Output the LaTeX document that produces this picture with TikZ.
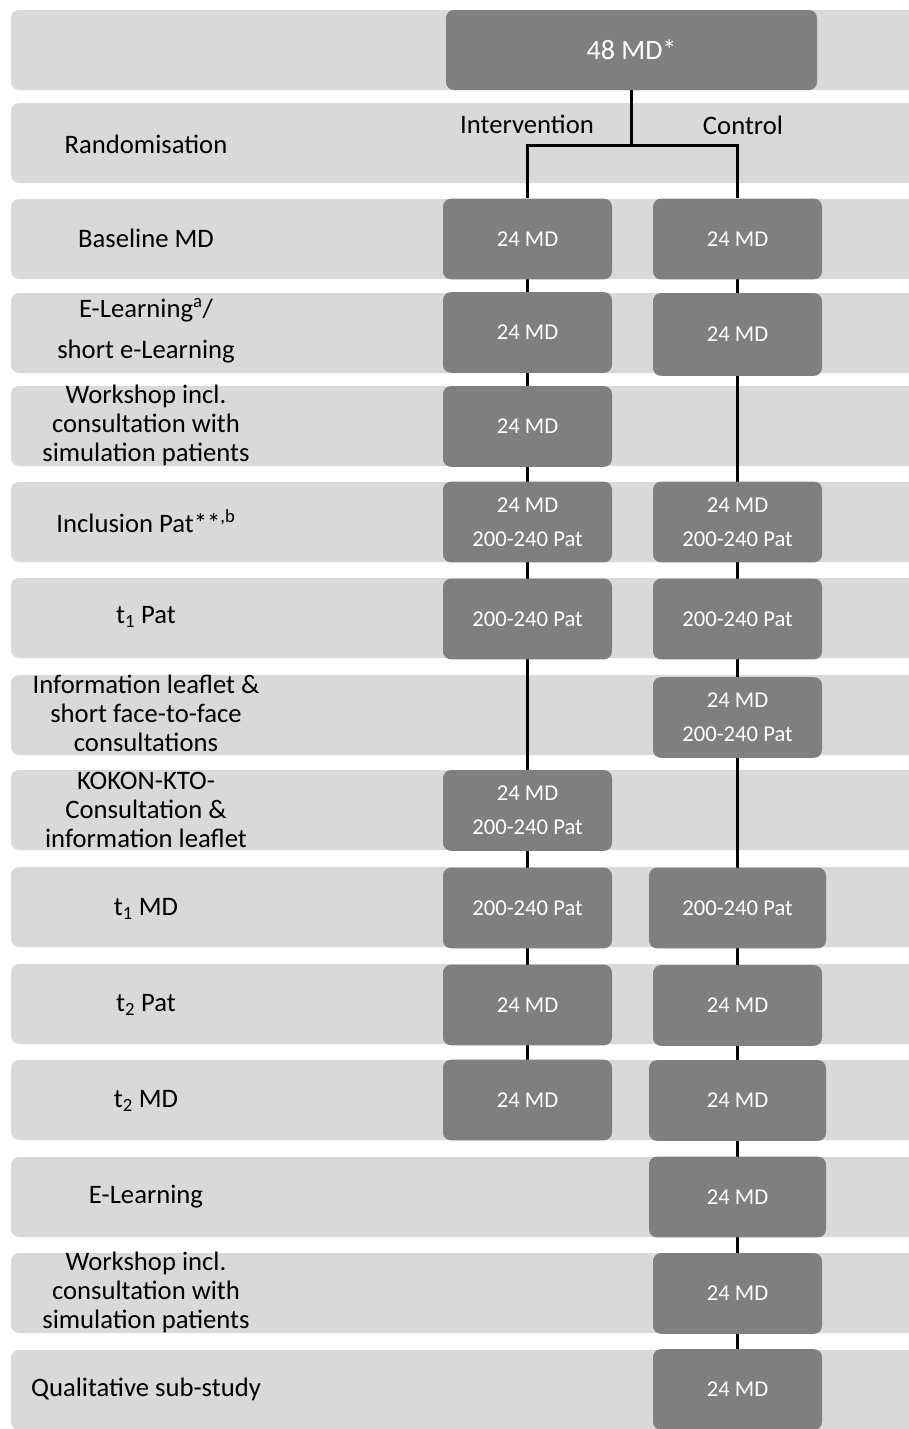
\documentclass[tikz,border=0pt]{standalone}
\usepackage{fontspec}
\setmainfont{Carlito}
\definecolor{bandgray}{HTML}{D9D9D9}
\definecolor{boxgray}{HTML}{7F7F7F}
\pgfdeclarelayer{bands}
\pgfdeclarelayer{lines}
\pgfsetlayers{bands,lines,main}
\begin{document}
\begin{tikzpicture}[x=0.75pt,y=-0.75pt,
  band/.style={fill=bandgray, rounded corners=6pt},
  box/.style={fill=boxgray, rounded corners=6pt, inner sep=0pt, text=white,
    align=center, font=\fontsize{17}{25.5}\selectfont, minimum height=60.5pt},
  ibox/.style={box, minimum width=126.75pt},
  cbox/.style={box, minimum width=126.75pt},
  cwide/.style={box, minimum width=132.75pt},
  lab/.style={align=center, inner sep=0pt, font=\fontsize{20}{21.75}\selectfont},
  conn/.style={draw=black, line width=2.25pt},
]
\useasboundingbox (0,0) rectangle (909,1429);
% bands
\begin{pgfonlayer}{bands}
\foreach \t in {10,103,199,293,386,482,578,675,770,867,964,1060,1157,1253,1350}
  \fill[band] (11,\t) rectangle (920,\t+80);
\end{pgfonlayer}
% top
\node[box, minimum width=278.25pt, minimum height=60pt, font=\fontsize{21}{24}\selectfont] (top) at (631.5,50) {48 MD*};
% labels
\node[lab] (lrand) at (146,144) {Randomisation};
\node[lab] (lint) at (527,124) {Intervention};
\node[lab] (lcon) at (743,125) {Control};
\node[lab] (l1) at (146,238) {Baseline MD};
\node[lab, font=\fontsize{20}{30.75}\selectfont] (l2) at (146,331) {E-Learning\textsuperscript{a}/\\short e-Learning};
\node[lab] (l3) at (146,425) {Workshop incl.\\consultation with\\simulation patients};
\node[lab] (l4) at (146,521) {Inclusion Pat**\textsuperscript{,b}};
\node[lab] (l5) at (146,617) {t\textsubscript{1} Pat};
\node[lab] (l6) at (146,713) {Information leaflet \&\\short face-to-face\\consultations};
\node[lab] (l7) at (146,810) {KOKON-KTO-\\Consultation \&\\information leaflet};
\node[lab] (l8) at (146,909) {t\textsubscript{1} MD};
\node[lab] (l9) at (146,1005) {t\textsubscript{2} Pat};
\node[lab] (l10) at (146,1101) {t\textsubscript{2} MD};
\node[lab] (l11) at (146,1197) {E-Learning};
\node[lab] (l12) at (146,1292) {Workshop incl.\\consultation with\\simulation patients};
\node[lab] (l13) at (146,1389) {Qualitative sub-study};
% intervention boxes
\node[ibox] (i1) at (527.5,239) {24 MD};
\node[ibox] (i2) at (527.5,332.5) {24 MD};
\node[ibox] (i3) at (527.5,426.5) {24 MD};
\node[ibox] (i4) at (527.5,522) {24 MD\\200-240 Pat};
\node[ibox] (i5) at (527.5,619) {200-240 Pat};
\node[ibox] (i6) at (527.5,810.5) {24 MD\\200-240 Pat};
\node[ibox] (i7) at (527.5,908) {200-240 Pat};
\node[ibox] (i8) at (527.5,1005) {24 MD};
\node[ibox] (i9) at (527.5,1100) {24 MD};
% control boxes
\node[cbox] (c1) at (737.5,239) {24 MD};
\node[cbox, minimum height=62pt] (c2) at (737.5,334.5) {24 MD};
\node[cbox] (c3) at (737.5,522) {24 MD\\200-240 Pat};
\node[cbox] (c4) at (737.5,619) {200-240 Pat};
\node[cbox] (c5) at (737.5,717.5) {24 MD\\200-240 Pat};
\node[cwide] (c6) at (737.5,908) {200-240 Pat};
\node[cbox] (c7) at (737.5,1005.5) {24 MD};
\node[cwide] (c8) at (737.5,1100.5) {24 MD};
\node[cwide] (c9) at (737.5,1197) {24 MD};
\node[cbox] (c10) at (737.5,1293.5) {24 MD};
\node[cbox] (c11) at (737.5,1389.5) {24 MD};
\coordinate (split) at (631.5,145);
% connectors
\begin{pgfonlayer}{lines}
\draw[conn] (top.south) -- (split);
\draw[conn, line join=miter] (split) -| (i1.north);
\draw[conn, line join=miter] (split) -| (c1.north);
\draw[conn] (i1.center) -- (i9.center);
\draw[conn] (c1.center) -- (c11.center);
\end{pgfonlayer}
\end{tikzpicture}
\end{document}
